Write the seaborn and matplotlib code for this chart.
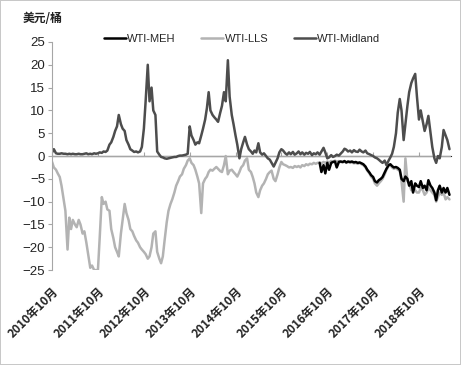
import numpy as np
import pandas as pd
import matplotlib
matplotlib.use("Agg")
import matplotlib.pyplot as plt
import matplotlib.dates as mdates
import seaborn as sns

# half-monthly readings, from 2010-10-01 to 2019-06-01
start = "2010-10-01"
dates = pd.date_range(start, periods=209, freq="SMS")

midland = [0.8,1.5,0.6,0.5,0.5,0.6,0.5,0.5,0.4,0.5,0.4,0.5,0.4,0.4,0.5,0.4,0.4,0.5,0.6,0.4,0.5,0.4,0.6,0.5,
           0.6,0.8,0.7,1.0,0.9,1.2,2.5,3.0,4.2,5.5,6.5,9.0,7.0,6.0,5.5,3.5,2.5,1.5,1.2,0.9,1.0,0.8,1.0,2.0,
           6.0,12.0,20.0,12.0,15.0,10.0,9.0,1.0,0.3,-0.2,-0.3,-0.5,-0.6,-0.5,-0.4,-0.3,-0.2,-0.2,0.0,0.1,0.1,0.2,0.3,0.5,
           6.5,4.5,3.5,2.5,3.0,2.8,4.5,6.0,8.0,10.5,14.0,10.0,9.0,8.5,8.0,7.5,9.5,11.0,14.0,12.0,21.0,13.0,9.0,7.0,
           4.5,2.5,-0.5,1.5,3.0,4.2,2.5,1.5,1.0,0.5,1.2,0.8,2.8,0.8,0.3,0.6,0.0,-0.5,-0.8,-1.5,-2.3,-1.5,-0.5,0.8,
           1.5,1.2,0.6,0.3,0.8,0.4,0.9,0.3,0.6,1.0,0.4,0.8,0.3,0.7,0.5,0.9,0.2,0.6,0.4,0.8,0.3,1.0,1.8,0.8,
           -0.5,-0.3,0.2,-0.2,0.0,0.3,0.1,0.5,1.0,1.6,1.4,1.0,1.2,0.8,1.3,1.0,0.9,1.4,1.0,0.8,1.2,0.6,0.4,0.2,
           0.0,-0.3,-0.5,-0.8,-1.2,-1.5,-1.0,-2.0,-1.0,-0.3,0.5,2.0,5.0,9.5,12.5,10.0,3.5,7.0,11.0,14.0,16.0,17.0,18.0,13.0,
           8.0,10.0,7.5,5.5,7.0,8.8,5.0,2.0,-0.5,-1.5,0.0,-0.5,2.0,5.7,4.5,3.5,1.5]

lls = [-1.3,-2.5,-3.0,-3.8,-4.6,-6.5,-9.5,-12.0,-20.5,-13.5,-16.0,-14.0,-15.0,-15.6,-14.0,-15.0,-17.0,-16.5,-19.0,-21.5,-24.5,-24.0,-25.0,-25.0,
       -25.0,-18.0,-9.0,-10.5,-10.0,-11.7,-12.0,-16.0,-18.0,-20.0,-21.0,-22.0,-17.0,-14.0,-10.5,-12.5,-14.0,-16.0,-16.5,-17.5,-18.5,-19.0,-20.0,-20.5,
       -21.0,-21.5,-22.5,-22.0,-20.0,-17.0,-16.5,-21.0,-22.5,-23.5,-22.0,-18.5,-14.5,-12.0,-10.5,-9.5,-8.0,-6.5,-5.5,-4.5,-4.0,-2.8,-2.0,-1.0,
       -0.5,-1.5,-2.0,-3.0,-4.5,-6.0,-12.5,-6.0,-5.0,-4.5,-3.5,-3.0,-3.2,-2.8,-2.4,-2.8,-3.3,-3.5,-2.0,0.0,-4.0,-3.2,-3.0,-3.5,
       -4.0,-4.5,-3.5,-2.5,-2.0,-1.0,-0.5,-3.0,-3.5,-4.6,-6.0,-8.0,-9.0,-7.5,-6.5,-6.0,-5.0,-4.0,-3.5,-3.2,-5.0,-5.5,-4.0,-2.5,
       -1.3,-1.8,-2.0,-2.2,-2.5,-2.4,-2.6,-2.2,-2.4,-2.2,-2.5,-2.0,-2.2,-1.8,-2.0,-1.7,-1.8,-1.5,-1.7,-1.5,-1.4,-1.6,-1.3,-1.5,
       -1.2,-1.4,-1.1,-1.3,-1.0,-1.2,-1.1,-1.3,-1.4,-1.2,-1.5,-1.3,-1.5,-1.4,-1.6,-1.5,-1.7,-1.5,-1.8,-2.0,-2.5,-3.2,-3.8,-4.5,
       -5.0,-6.0,-6.5,-6.0,-5.5,-5.0,-4.0,-3.0,-2.2,-2.0,-2.5,-2.8,-2.6,-3.0,-3.2,-5.5,-10.0,-0.5,-5.5,-6.0,-7.5,-7.0,-7.5,-8.0,
       -8.0,-7.0,-7.5,-8.5,-8.0,-7.0,-7.5,-8.0,-8.5,-10.0,-9.0,-8.0,-8.5,-8.0,-9.5,-9.0,-9.5]

# WTI-MEH only from mid 2016
meh_dates = dates[140:]
meh = [-1.5,-3.5,-2.0,-3.8,-1.5,-3.0,-1.5,-1.3,-1.2,-2.5,-1.3,-1.2,-1.3,-1.1,-1.4,-1.2,-1.3,-1.2,-1.4,-1.3,
       -1.5,-1.4,-1.6,-1.8,-2.3,-3.0,-3.6,-4.2,-4.6,-5.5,-5.8,-5.3,-5.0,-4.6,-3.6,-2.8,-2.0,-1.8,-2.2,-2.5,
       -2.4,-2.6,-3.0,-5.0,-5.5,-4.5,-5.0,-6.5,-5.5,-8.0,-6.0,-6.5,-6.8,-5.5,-7.0,-6.5,-7.5,-5.3,-6.5,-7.0,
       -8.0,-9.7,-7.5,-6.5,-8.0,-7.0,-8.0,-7.0,-8.5]

tick_years = list(range(2010, 2019))
tick_labels = [f"{y}年10月" for y in tick_years]

sns.set_style("white")
plt.rcParams['font.family'] = ['Liberation Sans Narrow', 'Liberation Sans', 'DejaVu Sans']
cjk = ['Noto Sans CJK SC', 'DejaVu Sans']

fig = plt.figure(figsize=(4.61, 3.65), dpi=100, edgecolor='#c8c8c8', linewidth=1.2)
ax = fig.add_axes([0.113, 0.26, 0.865, 0.625])

sns.lineplot(x=dates, y=lls, ax=ax, color='#b3b3b3', lw=1.8, label='WTI-LLS')
sns.lineplot(x=meh_dates, y=meh, ax=ax, color='black', lw=1.8, label='WTI-MEH')
sns.lineplot(x=dates, y=midland, ax=ax, color='#4d4d4d', lw=1.8, label='WTI-Midland')

ax.axhline(0, color='#a6a6a6', lw=1, zorder=1)
ax.set_ylim(-25, 25)
ax.set_yticks(range(-25, 26, 5))
ax.set_xlim(pd.Timestamp(start), pd.Timestamp("2019-06-12"))
ticks = [pd.Timestamp(f"{y}-10-01") for y in tick_years]
ax.set_xticks(ticks)
ax.set_xticklabels(tick_labels, rotation=45, ha='right', va='top', rotation_mode='anchor',
                   family=cjk, fontweight='bold', fontsize=8.5, color='#222222')
ax.tick_params(axis='x', length=0, pad=11)
ax.tick_params(axis='y', length=3, width=0.8, color='#a6a6a6', labelsize=9.5,
               labelcolor='#222222', pad=2, left=True)
ax.set_xlabel('')
ax.set_ylabel('')

for s in ['top', 'right', 'bottom']:
    ax.spines[s].set_visible(False)
ax.spines['left'].set_color('#a6a6a6')

# tick marks sitting on the zero line
sec = ax.secondary_xaxis(0.5)
sec.set_xticks(mdates.date2num(ticks))
sec.set_xticklabels([])
sec.tick_params(length=3, width=0.8, color='#a6a6a6')
sec.spines['bottom'].set_visible(False)

h, l = ax.get_legend_handles_labels()
order = [1, 0, 2]
ax.legend([h[i] for i in order], [l[i] for i in order], ncol=3, frameon=False,
          loc='center', bbox_to_anchor=(0.525, 0.894), bbox_transform=fig.transFigure,
          handlelength=2.0, handletextpad=0.1, columnspacing=2.3, fontsize=8)

fig.text(0.048, 0.95, '美元/桶', family=cjk, fontweight='bold', fontsize=8.5,
         color='#222222', va='center')

fig.savefig('out.png', dpi=100)
